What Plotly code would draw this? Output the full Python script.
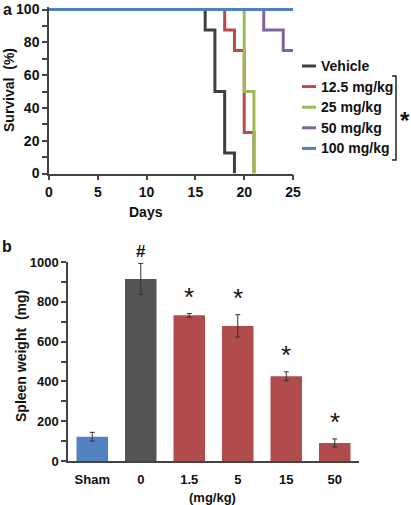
import plotly.graph_objects as go

# ---------------- Data ----------------
# Panel a: Kaplan-Meier survival (step points)
series_names = ["Vehicle", "12.5 mg/kg", "25 mg/kg", "50 mg/kg", "100 mg/kg"]
series_colors = ["#3f3f3f", "#b94a48", "#9bbb59", "#7f63a1", "#4f81bd"]
vehicle_days = [0, 16, 17, 18, 19]
vehicle_surv = [100, 87.5, 50, 12.5, 0]
d12_days = [0, 18, 19, 20, 21]
d12_surv = [100, 87.5, 75, 25, 0]
d25_days = [0, 20, 21]
d25_surv = [100, 50, 0]
d50_days = [0, 22, 24, 25]
d50_surv = [100, 87.5, 75, 75]
d100_days = [0, 25]
d100_surv = [100, 100]
surv_days = [vehicle_days, d12_days, d25_days, d50_days, d100_days]
surv_vals = [vehicle_surv, d12_surv, d25_surv, d50_surv, d100_surv]

# Panel b: spleen weight
spleen_groups = ["Sham", "0", "1.5", "5", "15", "50"]
spleen_mean = [122, 915, 732, 679, 426, 91]
spleen_err = [22, 78, 9, 56, 22, 20]
spleen_sig = ["", "#", "*", "*", "*", "*"]
bar_colors = ["#5381c1", "#545454", "#b04c4b", "#b04c4b", "#b04c4b", "#b04c4b"]

FONT = "Liberation Sans, Arial, sans-serif"
W, H = 411, 505
AX = "#444444"

fig = go.Figure()

for name, c, xs, ys in zip(series_names, series_colors, surv_days, surv_vals):
    fig.add_trace(go.Scatter(x=xs, y=ys, mode="lines", line=dict(color=c, width=3, shape="hv"),
                             name=name, showlegend=False, cliponaxis=False,
                             xaxis="x", yaxis="y"))

fig.add_trace(go.Bar(x=spleen_groups, y=spleen_mean, marker=dict(color=bar_colors, line=dict(width=0)),
                     width=0.65, showlegend=False,
                     error_y=dict(type="data", array=spleen_err, color="#333333", thickness=1, width=2.5),
                     xaxis="x2", yaxis="y2"))

def px_x(p):
    return p / W

def px_y(p):
    return 1 - p / H

annotations = []
shapes = []

# significance marks above bars (x given as category index)
for i, (m, e, s) in enumerate(zip(spleen_mean, spleen_err, spleen_sig)):
    if s:
        annotations.append(dict(x=i, y=m + e, xref="x2", yref="y2", text=("<b>%s</b>" % s if s == "#" else s),
                                showarrow=False, xanchor="center", yanchor="bottom",
                                yshift=(0 if s == "#" else 0),
                                font=dict(family=FONT, size=(17 if s == "#" else 26), color="#111111")))

# manual legend
for i, (name, c) in enumerate(zip(series_names, series_colors)):
    yy = 66 + i * 20.6
    shapes.append(dict(type="line", xref="paper", yref="paper", x0=px_x(302), x1=px_x(316),
                       y0=px_y(yy), y1=px_y(yy), line=dict(color=c, width=3)))
    annotations.append(dict(x=px_x(319), y=px_y(yy), xref="paper", yref="paper", text="<b>%s</b>" % name,
                            showarrow=False, xanchor="left", yanchor="middle",
                            font=dict(family=FONT, size=14, color="#111111")))

# bracket
shapes.append(dict(type="path", xref="paper", yref="paper",
                   path="M %f %f L %f %f L %f %f L %f %f" % (px_x(392), px_y(76), px_x(396), px_y(76),
                                                             px_x(396), px_y(160), px_x(392), px_y(160)),
                   line=dict(color="#222222", width=1.5)))

def ann(x, y, text, size, angle=0):
    return dict(x=px_x(x), y=px_y(y), xref="paper", yref="paper", text=text, showarrow=False,
                xanchor="center", yanchor="middle", textangle=angle,
                font=dict(family=FONT, size=size, color="#111111"))

annotations += [
    ann(405, 120, "<b>*</b>", 24),
    ann(7, 9, "<b>a</b>", 16),
    ann(7, 246, "<b>b</b>", 16),
    ann(9, 90, "<b>Survival  (%)</b>", 14, -90),
    ann(146, 212, "<b>Days</b>", 14),
    ann(21, 356, "<b>Spleen weight  (mg)</b>", 14, -90),
    ann(212, 497, "<b>(mg/kg)</b>", 13),
]

tickfont = dict(family=FONT, size=14, color="#111111")
tickfont_b = dict(family=FONT, size=13, color="#111111")

# panel a: keep 100 at pixel 9.5 but leave a little room so the 100% line is not clipped
Y_TOP = 101.5
top_px = 173.5 - (173.5 - 9.5) * Y_TOP / 100

fig.update_layout(
    width=W, height=H, margin=dict(l=0, r=0, t=0, b=0),
    paper_bgcolor="white", plot_bgcolor="white",
    showlegend=False, bargap=0.35,
    annotations=annotations, shapes=shapes,
    xaxis=dict(domain=[px_x(49), px_x(293)], range=[0, 25], tickvals=[0, 5, 10, 15, 20, 25],
               ticktext=["<b>%d</b>" % v for v in [0, 5, 10, 15, 20, 25]],
               ticks="outside", ticklen=5, tickcolor=AX, tickwidth=1.5,
               showline=True, linecolor=AX, linewidth=1.5, showgrid=False, zeroline=False,
               tickfont=tickfont, anchor="y", automargin=False),
    yaxis=dict(domain=[px_y(173.5), px_y(top_px)], range=[0, Y_TOP], tickvals=list(range(0, 101, 10)),
               ticktext=["<b>%d</b>" % v if v % 20 == 0 else "" for v in range(0, 101, 10)],
               ticks="outside", ticklen=5, tickcolor=AX, tickwidth=1.5,
               showline=True, linecolor=AX, linewidth=1.5, showgrid=False, zeroline=False,
               tickfont=tickfont, anchor="x", automargin=False),
    xaxis2=dict(domain=[px_x(68), px_x(359)], type="category", range=[-0.5, len(spleen_groups) - 0.5],
                tickmode="array", tickvals=spleen_groups,
                ticktext=["<b>%s</b>" % g for g in spleen_groups], ticks="", tickangle=0,
                ticklabelstandoff=6,
                showline=True, linecolor=AX, linewidth=1.5, showgrid=False, zeroline=False,
                tickfont=tickfont_b, anchor="y2", automargin=False),
    yaxis2=dict(domain=[px_y(461), px_y(262)], range=[0, 1000], tickvals=list(range(0, 1001, 100)),
                ticktext=["<b>%d</b>" % v if v % 200 == 0 else "" for v in range(0, 1001, 100)],
                ticks="outside", ticklen=5, tickcolor=AX, tickwidth=1.5,
                showline=True, linecolor=AX, linewidth=1.5, showgrid=False, zeroline=False,
                tickfont=tickfont_b, anchor="x2", automargin=False),
)

fig.write_html("out.html", config={"displayModeBar": False},
               post_script="document.body.style.margin='0';")
